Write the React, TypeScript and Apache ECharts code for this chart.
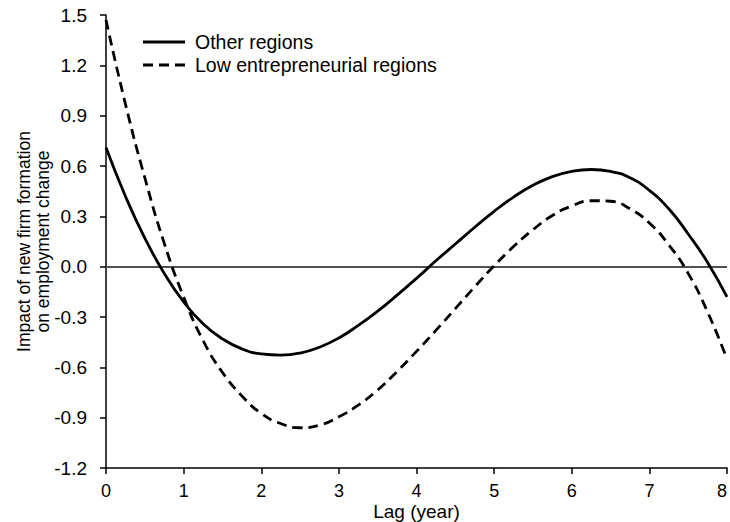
import React, { useEffect, useRef } from "react";
import * as echarts from "echarts";

const lags = [
  0, 0.25, 0.5, 0.75, 1, 1.25, 1.5, 1.75, 2, 2.25, 2.5, 2.75, 3, 3.25, 3.5, 3.75, 4,
  4.25, 4.5, 4.75, 5, 5.25, 5.5, 5.75, 6, 6.25, 6.5, 6.75, 7, 7.25, 7.5, 7.75, 8,
];
const otherRegions = [
  0.71, 0.42, 0.17, -0.04, -0.21, -0.34, -0.43, -0.49, -0.52, -0.527, -0.515, -0.48,
  -0.425, -0.35, -0.265, -0.17, -0.07, 0.035, 0.135, 0.235, 0.33, 0.415, 0.485, 0.537,
  0.568, 0.579, 0.568, 0.53, 0.455, 0.345, 0.195, 0.025, -0.18,
];
const lowEntrepreneurial = [
  1.47, 0.97, 0.53, 0.14, -0.18, -0.44, -0.63, -0.77, -0.875, -0.935, -0.96, -0.945,
  -0.895, -0.825, -0.735, -0.625, -0.505, -0.38, -0.25, -0.12, 0.005, 0.12, 0.22, 0.305,
  0.362, 0.393, 0.39, 0.345, 0.26, 0.13, -0.04, -0.27, -0.55,
];
const seriesNames = ["Other regions", "Low entrepreneurial regions"];

const FONT = "'Liberation Sans', Arial, Helvetica, sans-serif";
const DASH = [10, 6];

export default function App() {
  const ref = useRef<HTMLDivElement>(null);
  useEffect(() => {
    if (!ref.current) return;
    const chart = echarts.init(ref.current, null, { renderer: "svg" });
    const toPairs = (ys: number[]) => lags.map((x, i) => [x, ys[i]]);
    chart.setOption({
      animation: false,
      backgroundColor: "#ffffff",
      textStyle: { fontFamily: FONT, color: "#000" },
      grid: { left: 106, right: 3, top: 15, bottom: 54, outerBoundsMode: "none", containLabel: false },
      graphic: [
        {
          type: "line",
          shape: { x1: 143, y1: 42, x2: 185, y2: 42 },
          style: { stroke: "#000", lineWidth: 2.8 },
        },
        {
          type: "text",
          x: 195,
          y: 42,
          style: {
            text: seriesNames[0],
            font: `19.5px ${FONT}`,
            fill: "#000",
            verticalAlign: "middle",
            align: "left",
          },
        },
        {
          type: "line",
          shape: { x1: 143, y1: 65, x2: 185, y2: 65 },
          style: { stroke: "#000", lineWidth: 2.8, lineDash: DASH },
        },
        {
          type: "text",
          x: 195,
          y: 65,
          style: {
            text: seriesNames[1],
            font: `19.5px ${FONT}`,
            fill: "#000",
            verticalAlign: "middle",
            align: "left",
          },
        },
      ],
      xAxis: {
        type: "value",
        min: 0,
        max: 8,
        interval: 1,
        name: "Lag (year)",
        nameLocation: "middle",
        nameGap: 34,
        nameMoveOverlap: false,
        nameTextStyle: { fontFamily: FONT, fontSize: 19, color: "#000" },
        axisLine: { onZero: false, lineStyle: { color: "#000", width: 1.5 } },
        axisTick: { show: true, length: 6, lineStyle: { color: "#000", width: 1.5 } },
        axisLabel: {
          fontFamily: FONT,
          fontSize: 18,
          color: "#000",
          margin: 14,
          alignMaxLabel: "right",
        },
        splitLine: { show: false },
      },
      yAxis: {
        type: "value",
        min: -1.2,
        max: 1.5,
        interval: 0.3,
        name: "Impact of new firm formation\non employment change",
        nameLocation: "middle",
        nameGap: 54,
        nameRotate: 90,
        nameMoveOverlap: false,
        nameTextStyle: { fontFamily: FONT, fontSize: 17.5, color: "#000", lineHeight: 19 },
        axisLine: { show: true, lineStyle: { color: "#000", width: 1.5 } },
        axisTick: { show: true, length: 6, lineStyle: { color: "#000", width: 1.5 } },
        axisLabel: {
          fontFamily: FONT,
          fontSize: 19,
          color: "#000",
          margin: 19,
          formatter: (v: number) => v.toFixed(1),
        },
        splitLine: { show: false },
      },
      series: [
        {
          name: seriesNames[0],
          type: "line",
          data: toPairs(otherRegions),
          smooth: 0.5,
          symbol: "none",
          lineStyle: { color: "#000", width: 2.8, type: "solid" },
          itemStyle: { color: "#000" },
          z: 3,
          markLine: {
            silent: true,
            symbol: "none",
            label: { show: false },
            lineStyle: { color: "#505050", width: 2.2, type: "solid" },
            data: [{ yAxis: 0 }],
            z: 1,
          },
        },
        {
          name: seriesNames[1],
          type: "line",
          data: toPairs(lowEntrepreneurial),
          smooth: 0.5,
          symbol: "none",
          lineStyle: { color: "#000", width: 2.8, type: DASH },
          itemStyle: { color: "#000" },
          z: 3,
        },
      ],
    });
    return () => chart.dispose();
  }, []);
  return (
    <div
      ref={ref}
      style={{ position: "fixed", left: 0, top: 0, width: 730, height: 522, background: "#fff" }}
    />
  );
}
